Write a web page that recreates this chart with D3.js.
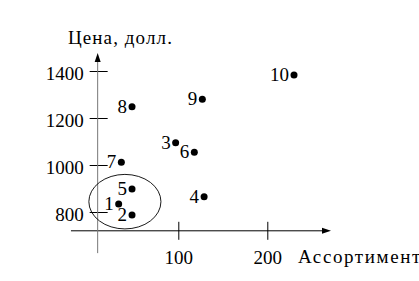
<!DOCTYPE html>
<html>
<head>
<meta charset="utf-8">
<script src="https://cdn.jsdelivr.net/npm/d3@7"></script>
<style>
  body { margin: 0; background: #fff; }
</style>
</head>
<body>
<div id="chart"></div>
<script>
// points: number, assortment, price
const ids = ["1", "2", "3", "4", "5", "6", "7", "8", "9", "10"];
const assortment = [33, 48, 97, 129, 48, 118, 36, 48, 127, 230];
const price = [834, 787, 1095, 865, 898, 1054, 1012, 1248, 1280, 1383];

const xTicks = [100, 200];
const yTicks = [800, 1000, 1200, 1400];

// highlighted cluster (data units)
const cluster = { cx: 40, cy: 844, rx: 40.5, ry: 116 };

const width = 419, height = 281;
const serif = "'Liberation Serif', 'Times New Roman', 'DejaVu Serif', serif";

// set the ranges
let x = d3.scaleLinear().domain([0, 200]).range([89.3, 267.3]);
let y = d3.scaleLinear().domain([800, 1400]).range([212, 71]);

const axisX = 9.4;   // y axis sits here on x
const axisY = 720;   // x axis sits here on y

let svg = d3.select("#chart").append("svg")
  .attr("width", width)
  .attr("height", height)
  .attr("font-family", serif);

// x axis
let gx = svg.append("g")
  .attr("transform", "translate(0," + y(axisY) + ")")
  .call(d3.axisBottom(x).tickValues(xTicks).tickSize(9).tickPadding(11).tickFormat(d3.format("d")));
gx.attr("font-family", serif).attr("font-size", 19);
gx.select(".domain").remove();
gx.selectAll(".tick line").attr("y1", -9).attr("stroke", "#000");
gx.selectAll(".tick text").attr("fill", "#000");
gx.append("line")
  .attr("x1", x(-20.6)).attr("x2", 326)
  .attr("stroke", "#000").attr("stroke-width", 1);
gx.append("path")
  .attr("d", "M331,0 L322,-3 L322,3 Z")
  .attr("fill", "#000");

// y axis
let gy = svg.append("g")
  .attr("transform", "translate(" + x(axisX) + ",0)")
  .call(d3.axisLeft(y).tickValues(yTicks).tickSize(8).tickPadding(6).tickFormat(d3.format("d")));
gy.attr("font-family", serif).attr("font-size", 19);
gy.select(".domain").remove();
gy.selectAll(".tick line").attr("x1", 10).attr("stroke", "#000");
gy.selectAll(".tick text").attr("fill", "#000").attr("dy", "0.45em");
gy.append("line")
  .attr("y1", y(625)).attr("y2", 60)
  .attr("stroke", "#777").attr("stroke-width", 1);
gy.append("path")
  .attr("d", "M0,53 L-3,62 L3,62 Z")
  .attr("fill", "#000");

// axis titles (the original face has wider cyrillic, hence the spacing)
svg.append("text")
  .attr("x", 68).attr("y", 44)
  .attr("font-size", 19)
  .attr("letter-spacing", 1.1)
  .text("Цена, долл.");
svg.append("text")
  .attr("x", 298).attr("y", 263)
  .attr("font-size", 19)
  .attr("letter-spacing", 1.6)
  .text("Ассортимент");

// cluster ellipse
svg.append("ellipse")
  .attr("cx", x(cluster.cx)).attr("cy", y(cluster.cy))
  .attr("rx", x(cluster.rx) - x(0)).attr("ry", y(800) - y(800 + cluster.ry))
  .attr("fill", "none").attr("stroke", "#000").attr("stroke-width", 0.9);

// points
svg.selectAll(".dot")
  .data(ids)
  .enter().append("circle")
  .attr("class", "dot")
  .attr("r", 3.5)
  .attr("cx", function (d, i) { return x(assortment[i]); })
  .attr("cy", function (d, i) { return y(price[i]); })
  .attr("fill", "#000");

svg.selectAll(".lbl")
  .data(ids)
  .enter().append("text")
  .attr("class", "lbl")
  .attr("x", function (d, i) { return x(assortment[i]) - 5; })
  .attr("y", function (d, i) { return y(price[i]) + 6; })
  .attr("text-anchor", "end")
  .attr("font-size", 19)
  .text(function (d) { return d; });
</script>
</body>
</html>
